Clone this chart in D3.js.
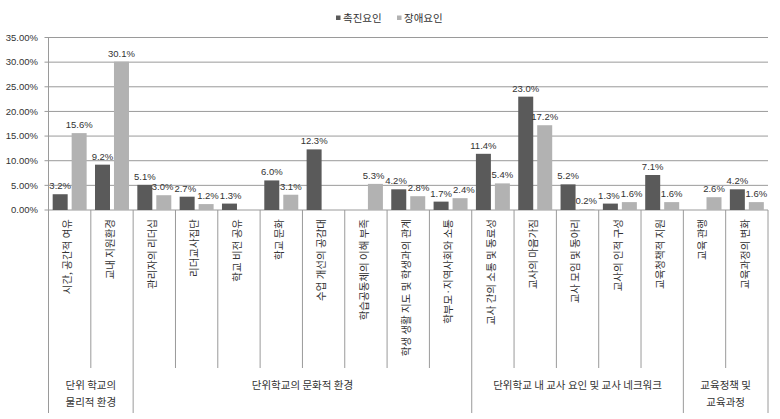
<!DOCTYPE html>
<html><head><meta charset="utf-8">
<script src="https://cdn.jsdelivr.net/npm/d3@7"></script>
<style>body{margin:0;background:#fff}svg{display:block}</style>
</head><body><svg id="c" width="780" height="419"></svg>
<script>
const categories = ["시간, 공간적 여유","교내 지원환경","관리자의 리더십","리더교사집단","학교 비전 공유","학교 문화","수업 개선의 공감대","학습공동체의 이해 부족","학생 생활 지도 및 학생과의 관계","학부모·지역사회와 소통","교사 간의 소통 및 동료성","교사의 마음가짐","교사 모임 및 동아리","교사의 인적 구성","교육청책적 지원","교육 관행","교육과정의 변화"];
const promote = [3.2,9.2,5.1,2.7,1.3,6.0,12.3,null,4.2,1.7,11.4,23.0,5.2,1.3,7.1,null,4.2];
const hinder  = [15.6,30.1,3.0,1.2,null,3.1,null,5.3,2.8,2.4,5.4,17.2,0.2,1.6,1.6,2.6,1.6];
const seriesNames = ["촉진요인","장애요인"];
const groups = [
  {label:["단위 학교의","물리적 환경"], from:0, to:1},
  {label:["단위학교의 문화적 환경"], from:2, to:9},
  {label:["단위학교 내 교사 요인 및 교사 네크워크"], from:10, to:14},
  {label:["교육정책 및","교육과정"], from:15, to:16}
];
const yTicks = [0,5,10,15,20,25,30,35];

(function(){
const colors = ["#5a5a5a","#b2b2b2"];
const svg = d3.select("#c");
const pLeft = 48.5, pRight = 768, pTop = 37.5, pBottom = 210;
const x = d3.scaleBand().domain(categories).range([pLeft,pRight]).padding(0);
const xs = d3.scaleBand().domain(seriesNames).range([0,x.bandwidth()]).paddingInner(0.21).paddingOuter(0.22);
const y = d3.scaleLinear().domain([0,35]).range([pBottom,pTop]);
const font = "'Liberation Sans', Arial, sans-serif";
const kfont = "'Noto Sans CJK KR', sans-serif";

svg.append("g").selectAll("line").data(yTicks).join("line")
  .attr("x1",pLeft-4).attr("x2",pRight).attr("y1",d=>y(d)).attr("y2",d=>y(d))
  .attr("stroke","#9a9a9a").attr("stroke-width",1);
svg.append("g").selectAll("text").data(yTicks).join("text")
  .attr("x",38).attr("y",d=>y(d)).attr("dy","0.35em").attr("text-anchor","end")
  .attr("font-family",font).attr("font-size","9.5px").attr("fill","#333")
  .text(d=>d.toFixed(2)+"%");
svg.append("line").attr("x1",pLeft).attr("x2",pLeft).attr("y1",pTop).attr("y2",pBottom).attr("stroke","#9a9a9a");

const data = categories.map((c,i)=>({c, vals:[promote[i],hinder[i]]}));
const g = svg.append("g");
const labels = [];
data.forEach(d=>{
  d.vals.forEach((v,j)=>{
    if(v===null) return;
    const bx = x(d.c)+xs(seriesNames[j]);
    g.append("rect").attr("x",bx).attr("width",xs.bandwidth())
      .attr("y",y(v)).attr("height",y(0)-y(v)).attr("fill",colors[j]);
    const t = g.append("text").attr("x",bx+xs.bandwidth()/2).attr("y",y(v)-5)
      .attr("text-anchor","middle").attr("font-family",font).attr("font-size","9.5px").attr("fill","#333")
      .text(v.toFixed(1)+"%");
    labels.push(t);
  });
});
// simple collision avoidance between neighbouring value labels
for(let iter=0; iter<6; iter++){
  for(let k=0; k<labels.length-1; k++){
    const A = labels[k], B = labels[k+1];
    const a = A.node().getBBox(), b = B.node().getBBox();
    const vOver = a.y < b.y+b.height-2 && b.y < a.y+a.height-2;
    const hOver = a.x+a.width - b.x + 0.5;
    if(vOver && hOver > 0){
      const s = hOver/2;
      A.attr("x", +A.attr("x") - s);
      B.attr("x", +B.attr("x") + s);
    }
  }
}

const groupBounds = new Set();
groups.forEach(gp=>{groupBounds.add(gp.from); groupBounds.add(gp.to+1);});
const bounds = d3.range(categories.length+1);
svg.append("g").selectAll("line").data(bounds).join("line")
  .attr("x1",i=>i<categories.length?x(categories[i]):pRight)
  .attr("x2",i=>i<categories.length?x(categories[i]):pRight)
  .attr("y1",pBottom).attr("y2",i=>groupBounds.has(i)?413:368)
  .attr("stroke","#9a9a9a");

svg.append("g").selectAll("text").data(categories).join("text")
  .attr("transform",d=>`translate(${x(d)+x.bandwidth()/2-2},219) rotate(-90)`)
  .attr("text-anchor","end").attr("dy","0.35em")
  .attr("font-family",kfont).attr("font-size","10.5px").attr("fill","#333")
  .text(d=>d);

groups.forEach(gp=>{
  const x0 = x(categories[gp.from]);
  const x1 = x(categories[gp.to])+x.bandwidth();
  gp.label.forEach((t,k)=>{
    svg.append("text").attr("x",(x0+x1)/2).attr("y",385+k*17).attr("dy","0.35em")
      .attr("text-anchor","middle").attr("font-family",kfont).attr("font-size","10.5px").attr("fill","#333")
      .text(t);
  });
});

const legX = [336,397];
seriesNames.forEach((s,j)=>{
  svg.append("rect").attr("x",legX[j]).attr("y",15.5).attr("width",4.5).attr("height",4.5).attr("fill",colors[j]);
  svg.append("text").attr("x",legX[j]+7).attr("y",18).attr("dy","0.35em")
    .attr("font-family",kfont).attr("font-size","10.5px").attr("fill","#333").text(s);
});
})();
</script></body></html>
